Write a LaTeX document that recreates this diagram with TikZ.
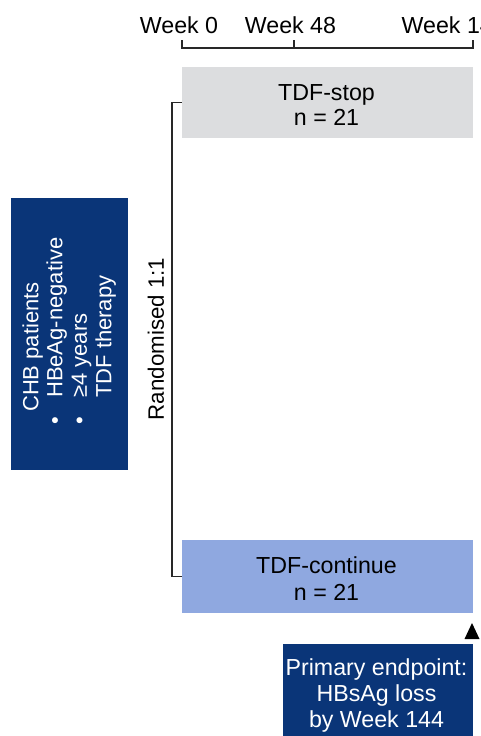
\documentclass[tikz,border=0pt]{standalone}
\usepackage{fontspec}
\setmainfont{Liberation Sans}
\definecolor{navy}{RGB}{10,53,120}
\definecolor{stopgray}{RGB}{220,221,223}
\definecolor{contblue}{RGB}{143,168,224}
\definecolor{linegray}{RGB}{40,40,40}
\tikzset{
  every node/.style={font=\fontsize{23.2}{26}\selectfont, inner sep=0pt},
  armbox/.style={minimum width=291pt},
  darkbox/.style={fill=navy},
  wtext/.style={text=white},
  ltext/.style={text=white, rotate=90, anchor=base west, font=\fontsize{22}{26}\selectfont},
  conn/.style={draw=linegray, line width=1.4pt},
}
\begin{document}
\begin{tikzpicture}[x=1pt,y=-1pt]
\useasboundingbox (0,0) rectangle (481,736);
\clip (0,0) rectangle (481,736);
\fill[white] (0,0) rectangle (481,736);
% timeline
\coordinate (t0) at (182,48);
\coordinate (t48) at (294,48);
\coordinate (t144) at (473,48);
\draw[conn] (t0) ++(0,-8) -- (t0) -- (t144) -- ++(0,-8);
\draw[conn] (t48) -- ++(0,-8);
\node[anchor=base] (w0) at (179,33) {Week 0};
\node[anchor=base] (w48) at (290.5,33) {Week 48};
\node[anchor=base west] (w144) at (401.5,33) {Week 144};
% arms
\node[armbox, fill=stopgray, minimum height=71pt] (stop) at (327.5,102.5) {};
\node[anchor=base] (stopa) at (326.5,100.7) {TDF-stop};
\node[anchor=base] (stopb) at (326.5,125.7) {n = 21};
\node[armbox, fill=contblue, minimum height=73pt] (cont) at (327.5,576.5) {};
\node[anchor=base] (conta) at (326.5,573.3) {TDF-continue};
\node[anchor=base] (contb) at (326.5,600.5) {n = 21};
% bracket
\draw[conn] (stop.west) -- ++(-10,0) |- (cont.west);
\node[rotate=90, font=\fontsize{22.3}{26}\selectfont] (rand) at (156,339) {Randomised 1:1};
% patients box
\node[darkbox, minimum width=117pt, minimum height=272pt] (pat) at (69.5,334) {};
\node[ltext] (p1) at (38.3,412) {CHB patients};
\node[ltext] (b2) at (62.3,425) {•};
\node[ltext] (p2) at (62.3,398) {HBeAg-negative};
\node[ltext] (b3) at (86.8,425) {•};
\node[ltext] (p3) at (86.8,398) {≥4 years};
\node[ltext] (p4) at (111.3,398) {TDF therapy};
% endpoint
\node[darkbox, minimum width=190pt, minimum height=100pt, anchor=north west] (endp) at (282.5,643.3) {};
\node[wtext, anchor=base] (e1) at (376.5,675.7) {Primary endpoint:};
\node[wtext, anchor=base] (e2) at (376.5,701.5) {HBsAg loss};
\node[wtext, anchor=base] (e3) at (376.5,727.2) {by Week 144};
\coordinate (tri) at (472,623);
\fill[black] (tri) -- ++(7.5,16) -- ++(-15,0) -- cycle;
\end{tikzpicture}
\end{document}
